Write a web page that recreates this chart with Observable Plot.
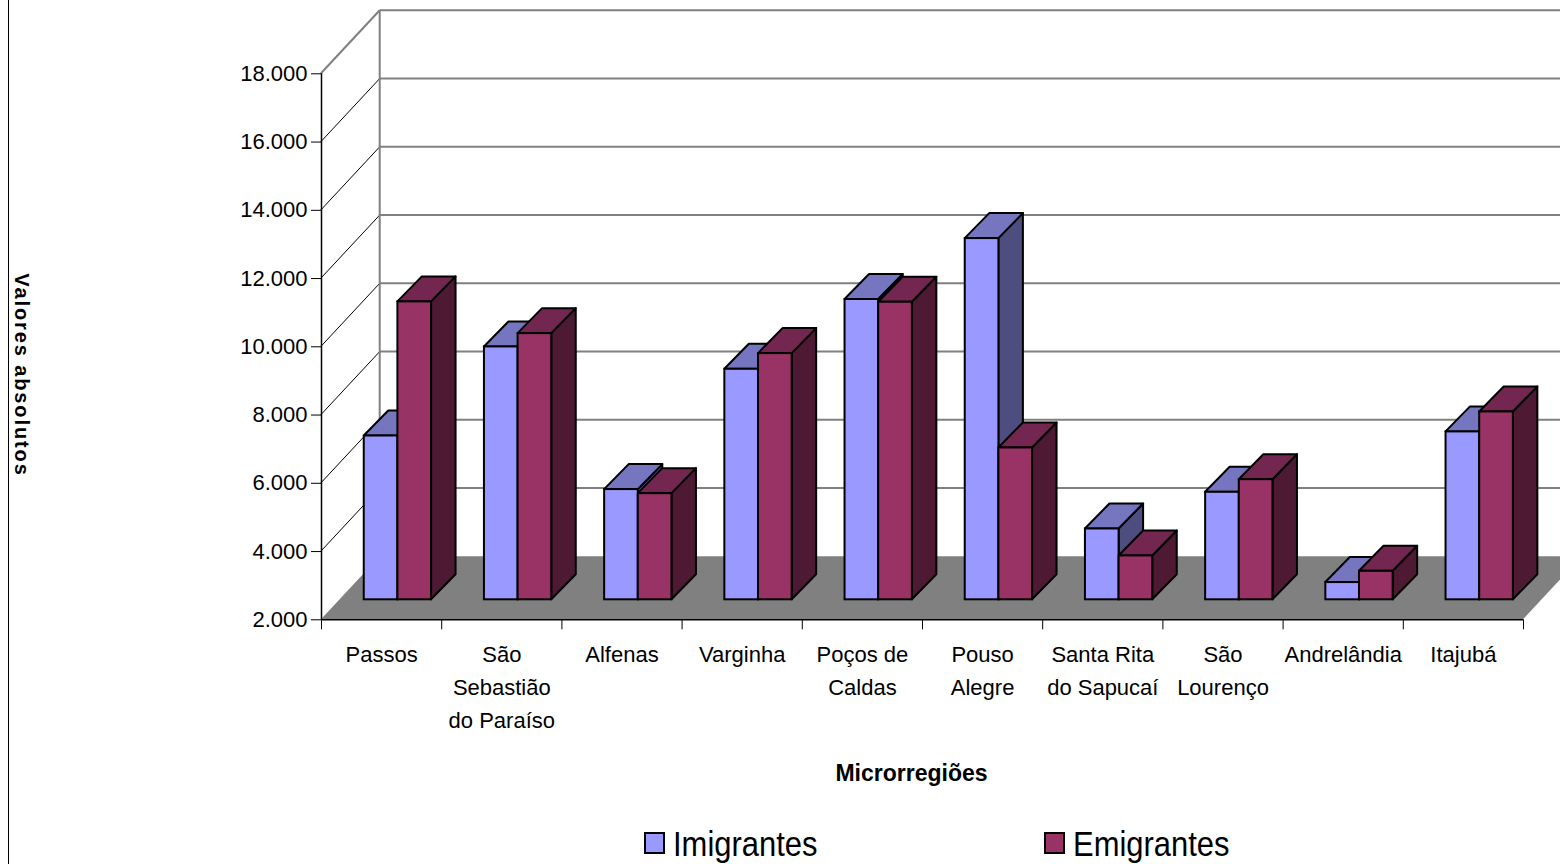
<!DOCTYPE html>
<html>
<head>
<meta charset="utf-8">
<script src="https://cdn.jsdelivr.net/npm/d3@7"></script>
<script src="https://cdn.jsdelivr.net/npm/@observablehq/plot@0.6"></script>
<style>
  html, body { margin: 0; padding: 0; background: #fff; overflow: hidden; }
  #chart svg { display: block; }
</style>
</head>
<body>
<div id="chart"></div>
<script>
// Migração por microrregião (valores absolutos)
const microrregioes = [
  "Passos", "São\nSebastião\ndo Paraíso", "Alfenas", "Varginha", "Poços de\nCaldas",
  "Pouso\nAlegre", "Santa Rita\ndo Sapucaí", "São\nLourenço", "Andrelândia", "Itajubá"
];
const imigrantes = [6800, 9410, 5230, 8755, 10800, 12585, 4075, 5150, 2505, 6920];
const emigrantes = [10730, 9800, 5110, 9215, 10720, 6450, 3285, 5520, 2835, 7505];
const series = ["Imigrantes", "Emigrantes"];
const valorTicks = [2000, 4000, 6000, 8000, 10000, 12000, 14000, 16000, 18000];

// face shading of each series' columns
const faceColors = {
  Imigrantes: {front: "#9999FF", top: "#7575C0", side: "#4D4D80"},
  Emigrantes: {front: "#993366", top: "#73264F", side: "#4D1933"}
};

// oblique projection offsets, in pixels
const WALL = [58.7, -63];   // from the front edge of the floor to the back wall
const PLANE = [18.7, -20];  // front plane of the columns
const DEPTH = [24.5, -25];  // depth of a column
const slot = {Imigrantes: 0.2, Emigrantes: 0.48};
const barW = 0.28;

const rows = microrregioes.flatMap((m, i) =>
  series.map(s => ({i, serie: s, valor: (s === "Imigrantes" ? imigrantes : emigrantes)[i]}))
);

const fmt = d3.formatLocale({decimal: ",", thousands: ".", grouping: [3], currency: ["R$", ""]}).format(",");

// floor, back wall and side wall with their gridlines
function paredes(index, {x, y}) {
  const g = d3.create("svg:g");
  const [dx, dy] = WALL;
  const x0 = x(0), x1 = x(microrregioes.length), yb = y(2000), yt = y(18000);
  g.append("rect")
    .attr("x", x0 + dx).attr("y", yt + dy)
    .attr("width", x1 - x0).attr("height", yb - yt)
    .attr("fill", "white");
  for (const t of valorTicks) {
    if (t === valorTicks[0]) continue;
    const yy = y(t);
    g.append("line")
      .attr("x1", x0 + dx).attr("x2", x1 + dx)
      .attr("y1", yy + dy).attr("y2", yy + dy)
      .attr("stroke", "#808080").attr("stroke-width", 2);
    const topo = t === valorTicks[valorTicks.length - 1];
    g.append("line")
      .attr("x1", x0).attr("y1", yy)
      .attr("x2", x0 + dx).attr("y2", yy + dy)
      .attr("stroke", topo ? "#808080" : "black")
      .attr("stroke-width", topo ? 2 : 1);
  }
  g.append("line")
    .attr("x1", x0 + dx).attr("x2", x0 + dx)
    .attr("y1", yt + dy).attr("y2", yb + dy)
    .attr("stroke", "#808080").attr("stroke-width", 2);
  g.append("path")
    .attr("d", `M${x0},${yb}L${x1},${yb}L${x1 + dx},${yb + dy}L${x0 + dx},${yb + dy}Z`)
    .attr("fill", "#808080");
  return g.node();
}

// side and top faces of the columns
function faces(index, {x, y}) {
  const g = d3.create("svg:g")
    .attr("stroke", "black").attr("stroke-width", 2).attr("stroke-linejoin", "round");
  const [ddx, ddy] = DEPTH;
  for (const r of rows) {
    const c = faceColors[r.serie];
    const xa = x(r.i + slot[r.serie]) + PLANE[0];
    const xb = x(r.i + slot[r.serie] + barW) + PLANE[0];
    const ya = y(r.valor) + PLANE[1];
    const yb = y(2000) + PLANE[1];
    g.append("path")
      .attr("d", `M${xb},${ya}L${xb + ddx},${ya + ddy}L${xb + ddx},${yb + ddy}L${xb},${yb}Z`)
      .attr("fill", c.side);
    g.append("path")
      .attr("d", `M${xa},${ya}L${xb},${ya}L${xb + ddx},${ya + ddy}L${xa + ddx},${ya + ddy}Z`)
      .attr("fill", c.top);
  }
  return g.node();
}

// frame border, vertical axis title and legend
function decoracao(index, scales, values, {width, height}) {
  const g = d3.create("svg:g").attr("fill", "black");
  g.append("line")
    .attr("x1", 8.5).attr("x2", 8.5).attr("y1", 0).attr("y2", height)
    .attr("stroke", "black").attr("stroke-width", 1);
  g.append("text")
    .attr("transform", "translate(22,375) rotate(90)")
    .attr("text-anchor", "middle").attr("dy", "0.35em")
    .attr("font-weight", "bold").attr("font-size", 20)
    .attr("letter-spacing", "1.9px")
    .text("Valores absolutos");
  series.forEach((s, k) => {
    const lx = 645 + k * 400;
    g.append("rect")
      .attr("x", lx).attr("y", 833).attr("width", 19).attr("height", 20)
      .attr("fill", faceColors[s].front).attr("stroke", "black").attr("stroke-width", 2);
    g.append("text")
      .attr("transform", `translate(${lx + 28},856) scale(0.86,1)`)
      .attr("text-anchor", "start")
      .attr("font-size", 36)
      .text(s);
  });
  return g.node();
}

const chart = Plot.plot({
  width: 1560,
  height: 864,
  marginLeft: 321,
  marginRight: 37,
  marginTop: 73.3,
  marginBottom: 244.7,
  style: {
    fontFamily: "'Liberation Sans', Arial, sans-serif",
    fontSize: "22px",
    color: "black",
    background: "white",
    overflow: "hidden"
  },
  x: {type: "linear", domain: [0, microrregioes.length]},
  y: {type: "linear", domain: [2000, 18000]},
  color: {type: "identity"},
  marks: [
    paredes,
    Plot.axisY({ticks: valorTicks, tickFormat: fmt, tickSize: 10, tickPadding: 4, fontSize: 22, label: null, stroke: "black"}),
    Plot.axisX({ticks: d3.range(microrregioes.length + 1), tickSize: 10, tickFormat: () => "", label: null, stroke: "black"}),
    Plot.ruleX([0], {y1: 2000, y2: 18000, stroke: "black", strokeWidth: 1.5}),
    Plot.ruleY([2000], {x1: 0, x2: microrregioes.length, stroke: "black", strokeWidth: 1.5}),
    faces,
    Plot.rect(rows, {
      x1: r => r.i + slot[r.serie],
      x2: r => r.i + slot[r.serie] + barW,
      y1: () => 2000,
      y2: "valor",
      fill: r => faceColors[r.serie].front,
      stroke: "black",
      strokeWidth: 2,
      dx: PLANE[0],
      dy: PLANE[1]
    }),
    Plot.text(microrregioes, {
      x: (d, i) => i + 0.5,
      frameAnchor: "bottom",
      dy: 18,
      lineAnchor: "top",
      lineHeight: 1.52,
      fontSize: 22,
      fill: "black"
    }),
    Plot.text(["Microrregiões"], {
      frameAnchor: "bottom",
      dx: -11,
      dy: 161,
      fontWeight: "bold",
      fontSize: 23,
      fill: "black"
    }),
    decoracao
  ]
});

document.getElementById("chart").append(chart);
</script>
</body>
</html>
